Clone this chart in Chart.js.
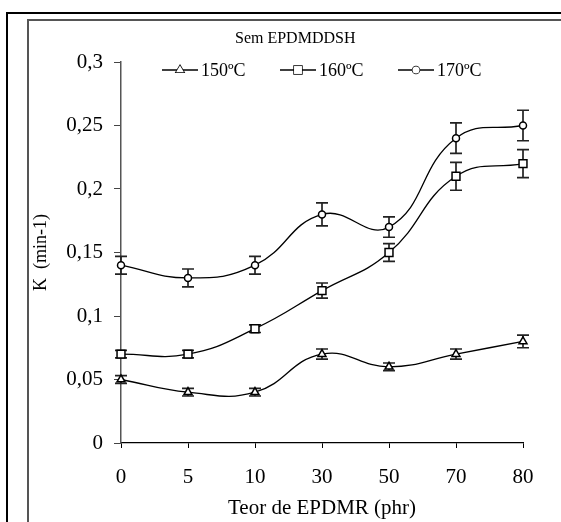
<!DOCTYPE html>
<html>
<head>
<meta charset="utf-8">
<script src="https://cdn.jsdelivr.net/npm/chart.js@4.4.0/dist/chart.umd.min.js"></script>
<style>
  html, body { margin: 0; padding: 0; background: #fff; }
  canvas { display: block; }
</style>
</head>
<body>
<canvas id="chart" width="561" height="522"></canvas>
<script>
// Data
const categories = ['0', '5', '10', '30', '50', '70', '80'];
const seriesNames = ['150ºC', '160ºC', '170ºC'];
const k150 = [0.05, 0.04, 0.04, 0.07, 0.06, 0.07, 0.08];
const k160 = [0.07, 0.07, 0.09, 0.12, 0.15, 0.21, 0.22];
const k170 = [0.14, 0.13, 0.14, 0.18, 0.17, 0.24, 0.25];
const err150 = [0.003, 0.003, 0.003, 0.004, 0.003, 0.004, 0.005];
const err160 = [0.003, 0.003, 0.003, 0.006, 0.007, 0.011, 0.011];
const err170 = [0.007, 0.007, 0.007, 0.009, 0.008, 0.012, 0.012];
const yTicks = [0, 0.05, 0.1, 0.15, 0.2, 0.25, 0.3];

const FONT = "'Liberation Serif', 'Times New Roman', serif";

// Outer frames, title and legend
const framePlugin = {
    id: 'frame',
    beforeDraw(chart) {
        const ctx = chart.ctx;
        ctx.save();
        ctx.strokeStyle = '#000';
        ctx.lineWidth = 2;
        ctx.beginPath();
        ctx.moveTo(7, 522);
        ctx.lineTo(7, 13);
        ctx.lineTo(561, 13);
        ctx.stroke();
        ctx.strokeStyle = '#555';
        ctx.lineWidth = 2;
        ctx.beginPath();
        ctx.moveTo(28, 522);
        ctx.lineTo(28, 20);
        ctx.lineTo(561, 20);
        ctx.stroke();
        ctx.restore();
    },
    afterDraw(chart) {
        const ctx = chart.ctx;
        ctx.save();
        ctx.fillStyle = '#000';
        ctx.font = '16px ' + FONT;
        ctx.textBaseline = 'alphabetic';
        ctx.textAlign = 'left';
        ctx.fillText('Sem EPDMDDSH', 235, 43);

        const starts = [162, 280, 398];
        const styles = ['triangle', 'rect', 'circle'];
        const radii = [4.6, 5.6, 3.5];
        const y = 70;
        ctx.font = '18px ' + FONT;
        ctx.textBaseline = 'middle';
        starts.forEach((x0, i) => {
            ctx.strokeStyle = '#000';
            ctx.lineWidth = 1.3;
            ctx.beginPath();
            ctx.moveTo(x0, y);
            ctx.lineTo(x0 + 36, y);
            ctx.stroke();
            ctx.fillStyle = '#fff';
            ctx.lineWidth = 1.5;
            Chart.helpers.drawPoint(ctx, { pointStyle: styles[i], radius: radii[i], rotation: 0, borderWidth: 1.5 }, x0 + 18, y);
            ctx.fill();
            ctx.fillStyle = '#000';
            ctx.fillText(seriesNames[i], x0 + 39, y + 1);
        });
        ctx.restore();
    }
};

// Error bars drawn through the chart scales
const errorBarPlugin = {
    id: 'errorBars',
    beforeDatasetsDraw(chart) {
        const ctx = chart.ctx;
        const xs = chart.scales.x;
        const ys = chart.scales.y;
        ctx.save();
        ctx.strokeStyle = '#222';
        ctx.lineWidth = 1.7;
        chart.data.datasets.forEach(ds => {
            ds.data.forEach((v, i) => {
                const e = ds.errors[i];
                const x = xs.getPixelForValue(i);
                const top = ys.getPixelForValue(v + e);
                const bot = ys.getPixelForValue(v - e);
                ctx.beginPath();
                ctx.moveTo(x, top);
                ctx.lineTo(x, bot);
                ctx.moveTo(x - 6, top);
                ctx.lineTo(x + 6, top);
                ctx.moveTo(x - 6, bot);
                ctx.lineTo(x + 6, bot);
                ctx.stroke();
            });
        });
        ctx.restore();
    }
};

function makeDataset(label, data, errors, style, radius) {
    return {
        label: label,
        data: data,
        errors: errors,
        borderColor: '#000',
        borderWidth: 1.3,
        tension: 0.45,
        fill: false,
        pointStyle: style,
        pointRadius: radius,
        pointBackgroundColor: '#fff',
        pointBorderColor: '#000',
        pointBorderWidth: 1.5
    };
}

new Chart(document.getElementById('chart').getContext('2d'), {
    type: 'line',
    data: {
        labels: categories,
        datasets: [
            makeDataset(seriesNames[0], k150, err150, 'triangle', 4.6),
            makeDataset(seriesNames[1], k160, err160, 'rect', 5.6),
            makeDataset(seriesNames[2], k170, err170, 'circle', 3.5)
        ]
    },
    options: {
        responsive: false,
        devicePixelRatio: 1,
        animation: false,
        layout: { padding: { left: 30, right: 38, top: 62, bottom: 0 } },
        plugins: {
            legend: { display: false },
            title: { display: false },
            tooltip: { enabled: false }
        },
        scales: {
            x: {
                type: 'category',
                offset: false,
                grid: { drawOnChartArea: false, drawTicks: true, tickLength: 5, color: '#000', offset: false },
                border: { display: true, color: '#000', width: 1.3 },
                ticks: { color: '#000', font: { family: FONT, size: 21 }, padding: 17, maxRotation: 0 },
                title: { display: true, text: 'Teor de EPDMR (phr)', color: '#000', font: { family: FONT, size: 21 }, padding: { top: 0, bottom: 1 } },
                afterFit(scale) { scale.height = 79; }
            },
            y: {
                min: 0,
                max: 0.3,
                afterBuildTicks(scale) { scale.ticks = yTicks.map(v => ({ value: v })); },
                grid: { drawOnChartArea: false, drawTicks: true, tickLength: 7, color: '#444' },
                border: { display: true, color: '#555', width: 1.5 },
                ticks: {
                    color: '#000',
                    font: { family: FONT, size: 21 },
                    padding: 11,
                    callback: v => String(Math.round(v * 100) / 100).replace('.', ',')
                },
                title: { display: true, text: 'K  (min-1)', color: '#000', font: { family: FONT, size: 18 }, padding: { top: 0, bottom: 0 } },
                afterFit(scale) { scale.width = 91; }
            }
        }
    },
    plugins: [framePlugin, errorBarPlugin]
});
</script>
</body>
</html>
